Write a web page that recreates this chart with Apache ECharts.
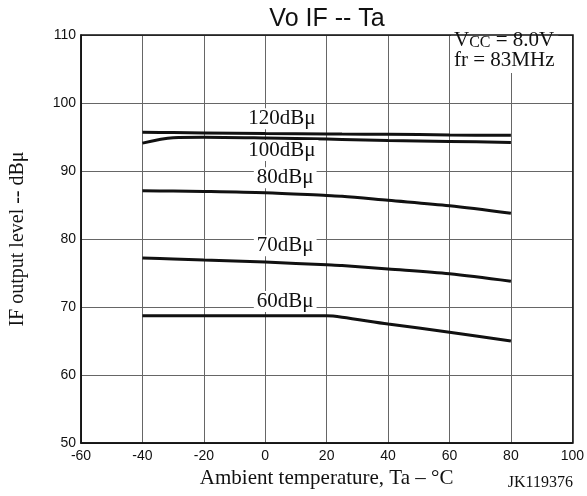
<!DOCTYPE html>
<html><head><meta charset="utf-8">
<script src="https://cdn.jsdelivr.net/npm/echarts@6/dist/echarts.min.js"></script>
<style>html,body{margin:0;padding:0;background:#fff}#c{width:587px;height:496px}</style>
</head><body><div id="c"></div>
<script>
var xTicks = [-60,-40,-20,0,20,40,60,80,100];
var temps = [-40,-30,-20,0,20,25,40,60,80];
var s120 = [95.7,95.65,95.6,95.5,95.45,95.43,95.4,95.3,95.25];
var s100 = [94.1,94.9,94.95,94.85,94.7,94.65,94.5,94.35,94.2];
var s80  = [87.1,87.05,87.0,86.8,86.4,86.3,85.7,84.9,83.8];
var s70  = [77.2,77.05,76.9,76.6,76.2,76.1,75.6,74.9,73.8];
var s60  = [68.7,68.7,68.7,68.7,68.7,68.5,67.5,66.3,65.0];
var curveNames = ['120dBμ','100dBμ','80dBμ','70dBμ','60dBμ'];
var labelX = [5.4,5.4,6.5,6.5,6.5];
var labelY = [97.7,93.0,89.0,79.0,70.8];

var chart = echarts.init(document.getElementById('c'));
function ser(name, vals){
  return {type:'line', name:name, data:temps.map(function(t,i){return [t, vals[i]];}),
    symbol:'none', smooth:0.3, lineStyle:{color:'#111', width:3}, z:3, silent:true};
}
var series = [ser(curveNames[0],s120), ser(curveNames[1],s100), ser(curveNames[2],s80), ser(curveNames[3],s70), ser(curveNames[4],s60)];
series.push({type:'scatter', symbolSize:0, z:4, silent:true,
  itemStyle:{opacity:1},
  data: curveNames.map(function(n,i){return {value:[labelX[i],labelY[i]], name:n};}),
  label:{show:true, opacity:1, position:'inside', formatter:'{b}', fontFamily:'Liberation Serif', fontSize:21, color:'#111', backgroundColor:'#fff', padding:[0,3]}
});
chart.setOption({
  backgroundColor:'#fff',
  animation:false,
  title:{text:'Vo IF -- Ta', left:322, top:2, textAlign:'center', textStyle:{fontFamily:'Liberation Sans', fontSize:25, fontWeight:'normal', color:'#111'}},
  grid:{left:81, right:14, top:35, bottom:53},
  xAxis:{type:'value', min:-60, max:100, interval:20,
    axisLine:{show:true, onZero:false, lineStyle:{color:'#111', width:1.5}},
    axisTick:{show:false},
    axisLabel:{fontFamily:'Liberation Sans', fontSize:14, color:'#111', margin:6},
    splitLine:{show:true, lineStyle:{color:'#666', width:1}},
    name:'Ambient temperature, Ta – °C', nameLocation:'middle', nameGap:23,
    nameTextStyle:{fontFamily:'Liberation Serif', fontSize:21, color:'#111'}},
  yAxis:{type:'value', min:50, max:110, interval:10,
    axisLine:{show:true, onZero:false, lineStyle:{color:'#111', width:1.5}},
    axisTick:{show:false},
    axisLabel:{fontFamily:'Liberation Sans', fontSize:14, color:'#111', margin:5},
    splitLine:{show:true, lineStyle:{color:'#666', width:1}},
    name:'IF output level -- dBμ', nameLocation:'middle', nameGap:53,
    nameTextStyle:{fontFamily:'Liberation Serif', fontSize:20, color:'#111'}},
  graphic:[
    {type:'text', left:451, top:28, z:10, style:{text:'{a|V}{s|CC}{a| = 8.0V}', backgroundColor:'#fff', padding:[0,4,0,3],
      rich:{a:{fontFamily:'Liberation Serif', fontSize:21, fill:'#111', lineHeight:22},
            s:{fontFamily:'Liberation Serif', fontSize:16, fill:'#111', lineHeight:22, verticalAlign:'bottom', padding:[7,0,0,0]}}}},
    {type:'text', left:451, top:50, z:10, style:{text:'fr = 83MHz', font:'21px "Liberation Serif"', fill:'#111', backgroundColor:'#fff', padding:[0,4,2,3]}},
    {type:'rect', shape:{x:81, y:35, width:492, height:408}, style:{fill:'none', stroke:'#111', lineWidth:1.5}, z:11, silent:true},
    {type:'text', right:14, top:475, z:10, style:{text:'JK119376', font:'16px "Liberation Serif"', fill:'#111'}}
  ],
  series:series
});
</script></body></html>
